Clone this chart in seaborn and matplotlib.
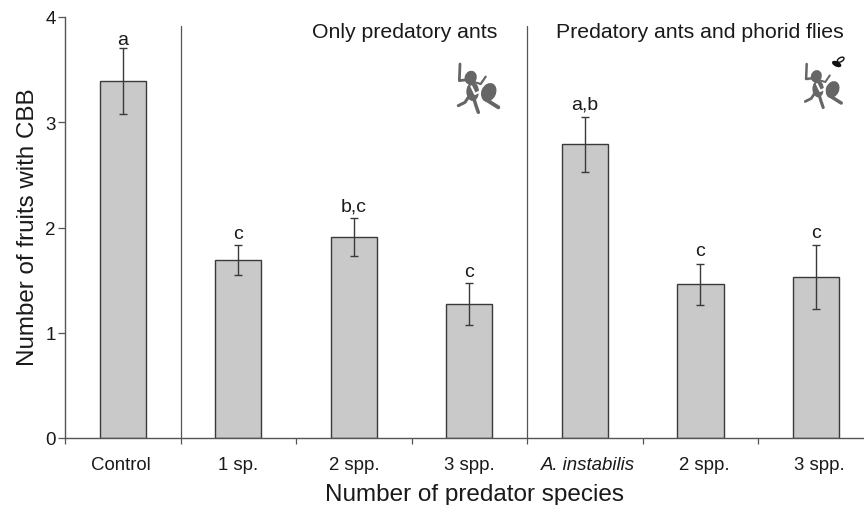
import matplotlib
matplotlib.use("Agg")
import matplotlib.pyplot as plt
from matplotlib.patches import Ellipse
from matplotlib.lines import Line2D
from matplotlib.transforms import Affine2D
import pandas as pd
import seaborn as sns

sns.set_theme(style="ticks")
plt.rcParams['font.family'] = ['Liberation Sans', 'DejaVu Sans']

keys = ["c", "a1", "a2", "a3", "p1", "p2", "p3"]
labels = ["Control", "1 sp.", "2 spp.", "3 spp.", "A. instabilis", "2 spp.", "3 spp."]
means = [3.39, 1.69, 1.91, 1.27, 2.79, 1.46, 1.53]
errs = [0.315, 0.14, 0.18, 0.20, 0.26, 0.195, 0.30]
letters = ["a", "c", "b,c", "c", "a,b", "c", "c"]
group_titles = ["Only predatory ants", "Predatory ants and phorid flies"]
dividers = [0.5, 3.5]

W, H = 864, 506
fig = plt.figure(figsize=(W / 100, H / 100), dpi=100)
x0, x1, y_top, y_bot = 65, 864, 18, 439
ax = fig.add_axes([x0 / W, 1 - y_bot / H, (x1 - x0) / W, (y_bot - y_top) / H])

LINE = "#3a3a3a"
AXIS = "#555555"
TEXT = "#1a1a1a"

df = pd.DataFrame({"k": keys, "m": means})
sns.barplot(data=df, x="k", y="m", order=keys, color="#c9c9c9", saturation=1,
            width=0.4, edgecolor=LINE, linewidth=1.0, ax=ax, errorbar=None)
xpos = list(range(len(keys)))
ax.errorbar(xpos, means, yerr=errs, fmt="none", ecolor=LINE, elinewidth=1.0,
            capsize=3, capthick=1.0)
letter_gaps_px = [4, 7, 8, 7, 8, 9, 8]
for x, m, e, t, g in zip(xpos, means, errs, letters, letter_gaps_px):
    ax.annotate(t, (x, m + e), xytext=(0, g), textcoords="offset pixels",
                ha="center", va="baseline", fontsize=14, color=TEXT)

ax.set_xlim(-0.5, (x1 - 123) / 115.5)
ax.set_ylim(0, 4)
for d in dividers:
    ax.plot([d, d], [0, 3.91], color=AXIS, lw=0.9)

ax.set_xticks(xpos)
ax.set_xticklabels(labels)
ax.get_xticklabels()[4].set_style("italic")
ax.set_xticks([i - 0.5 for i in range(7)], minor=True)
ax.tick_params(axis="x", which="major", length=0, pad=13, labelsize=13.4, labelcolor=TEXT)
ax.tick_params(axis="x", which="minor", length=4.5, width=0.9, color=AXIS)
label_shift_px = [-2, 0, 0, 0, 3, 4, 3]
for lab, dx in zip(ax.get_xticklabels(), label_shift_px):
    lab.set_transform(lab.get_transform() + Affine2D().translate(dx, 0))
ax.set_yticks([0, 1, 2, 3, 4])
ax.tick_params(axis="y", length=5, width=0.9, color=AXIS, labelsize=13.5, pad=1.5, labelcolor=TEXT)
for s in ["top", "right"]:
    ax.spines[s].set_visible(False)
for s in ["left", "bottom"]:
    ax.spines[s].set_color(AXIS)
    ax.spines[s].set_linewidth(1.0)
ax.set_xlabel("Number of predator species", fontsize=17.5, color=TEXT, labelpad=7, x=0.512)
ax.set_ylabel("Number of fruits with CBB", fontsize=17.4, color=TEXT, labelpad=5, y=0.5036)

fig.text(405 / W, 1 - 33 / H, group_titles[0], ha="center", va="center", fontsize=15.3, color=TEXT)
fig.text(700 / W, 1 - 33 / H, group_titles[1], ha="center", va="center", fontsize=15.3, color=TEXT)

# Ant icons, in figure pixels
def ant(ox, oy, s):
    tr = Affine2D().scale(s / 3).translate(ox, oy).scale(1 / W, -1 / H).translate(0, 1) + fig.transFigure
    col = "#666666"
    paths = [([90, 88, 112], [45, 95, 92], 2.0), ([167, 152, 135], [83, 105, 100], 1.6),
             ([115, 105, 85], [145, 160, 170], 2.2), ([132, 138, 145], [150, 170, 190], 2.5),
             ([165, 205], [150, 175], 2.8)]
    for xs, ys, lw in paths:
        fig.add_artist(Line2D(xs, ys, color=col, lw=lw * s, transform=tr, solid_capstyle="round"))
    for c, w, h, a in [((122, 86), 36, 42, 20), ((128, 128), 38, 56, 0), ((176, 130), 44, 58, 25)]:
        fig.add_artist(Ellipse(c, w, h, angle=a, color=col, lw=0, transform=tr))
    fig.add_artist(Line2D([124, 135, 148, 152], [112, 135, 128, 150], color="white", lw=1.5, transform=tr))

ant(430, 50, 1.0)
ant(779.7, 51.5, 0.9)
# Phorid fly
fly = Affine2D().scale(1 / 3).translate(780, 45).scale(1 / W, -1 / H).translate(0, 1) + fig.transFigure
fig.add_artist(Ellipse((170, 60), 30, 16, angle=25, color="#111111", lw=0, transform=fly))
fig.add_artist(Ellipse((182, 47), 22, 12, angle=-30, facecolor="white", edgecolor="#111111", lw=1.0, transform=fly))

fig.savefig("out.png", dpi=100)
